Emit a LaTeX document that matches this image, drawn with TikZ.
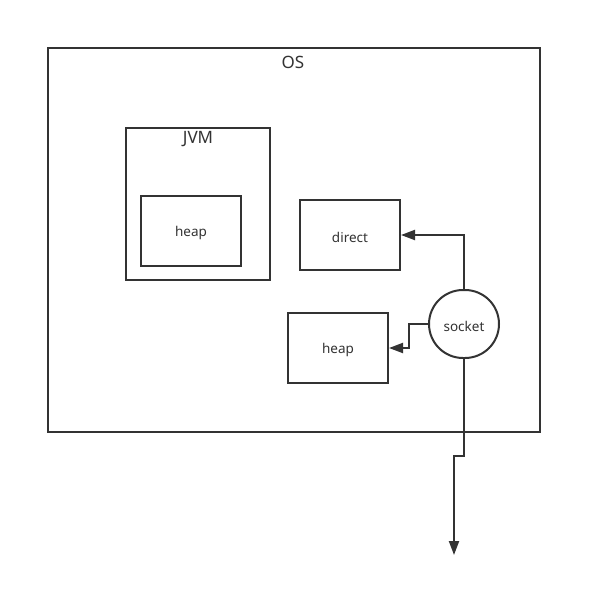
\documentclass[tikz,border=0pt]{standalone}
\usepackage{fontspec}
\setmainfont{Noto Sans}
\usetikzlibrary{arrows.meta}
\definecolor{ink}{HTML}{333333}
\begin{document}
\begin{tikzpicture}[x=1pt,y=-1pt,
  box/.style={draw=ink,line width=2pt,fill=white},
  lbl/.style={text=ink,inner sep=0pt,yshift=-2pt,font=\fontsize{13.5}{15}\selectfont},
  big/.style={text=ink,inner sep=0pt,font=\fontsize{17}{20}\selectfont},
  conn/.style={draw=ink,line width=2pt,-{Triangle[length=14pt,width=10pt]}}]
\useasboundingbox (0,0) rectangle (602,615);
% OS
\draw[box] (48,48) rectangle (540,432);
\node[big] (os) at (293,62) {OS};
% JVM
\draw[box] (126,128) rectangle (270,280);
\node[big] (jvm) at (198,139) {JVM};
\node[box,minimum width=100pt,minimum height=70pt,inner sep=0pt] (heapa) at (191,231) {};
\node[lbl] at (heapa) {heap};
% direct
\node[box,minimum width=100pt,minimum height=70pt,inner sep=0pt] (direct) at (350,235) {};
\node[lbl] at (direct) {direct};
% heap 2
\node[box,minimum width=100pt,minimum height=70pt,inner sep=0pt] (heapb) at (338,348) {};
\node[lbl] at (heapb) {heap};
% socket
\node[box,minimum width=70pt,minimum height=68pt,inner sep=0pt,rounded corners=34pt] (socket) at (464,324) {};
\node[lbl] at (socket) {socket};
% connectors
\coordinate (out) at (454,555);
\draw[conn] (socket.north) |- (direct.east);
\draw[conn] (socket.west) -- (409,324) -- (409,348) -- (heapb.east);
\draw[conn] (socket.south) -- (464,456) -- (454,456) -- (out);
\end{tikzpicture}
\end{document}
